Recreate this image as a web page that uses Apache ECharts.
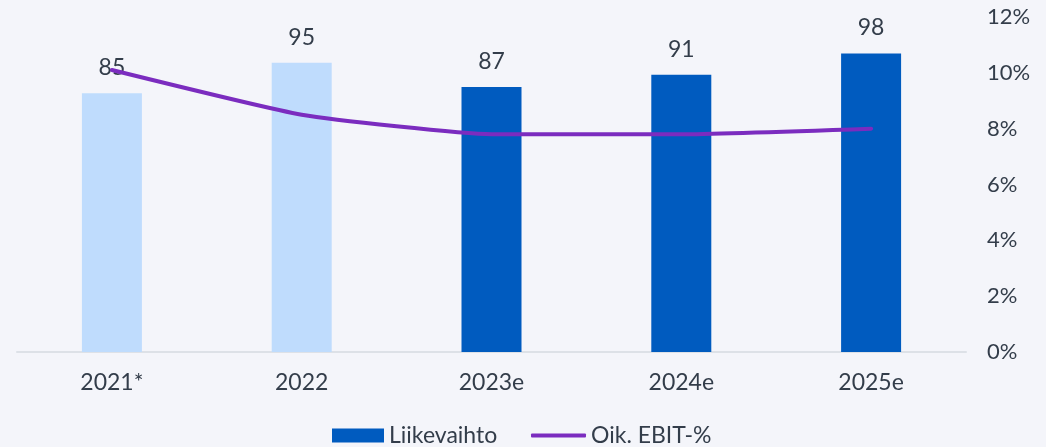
<!DOCTYPE html>
<html>
<head>
<meta charset="utf-8">
<script src="https://cdn.jsdelivr.net/npm/echarts@6/dist/echarts.min.js"></script>
<style>
html,body{margin:0;padding:0;background:#f4f5fa;}
#c{width:1046px;height:447px;}
</style>
</head>
<body>
<div id="c"></div>
<script>
const categories = ['2021*', '2022', '2023e', '2024e', '2025e'];
const revenue = [85, 95, 87, 91, 98];
const ebitPct = [10.1, 8.5, 7.8, 7.8, 8.0];
const actualCount = 2;
const pctTicks = [0, 2, 4, 6, 8, 10, 12];

const lightBlue = '#bfdcfd';
const darkBlue = '#005bbf';
const purple = '#7b2cbf';
const textColor = '#333d4a';
const font = 'Lato';

const chart = echarts.init(document.getElementById('c'), null, {renderer: 'canvas'});
chart.setOption({
  backgroundColor: '#f4f5fa',
  textStyle: {fontFamily: font},
  grid: {left: 17, right: 80, top: 17, bottom: 95},
  xAxis: {
    type: 'category',
    data: categories,
    axisLine: {lineStyle: {color: '#dde1e7', width: 2}},
    axisTick: {show: false},
    axisLabel: {color: textColor, fontSize: 23, fontFamily: font, margin: 19}
  },
  yAxis: [
    {type: 'value', min: 0, max: 110, show: false, splitLine: {show: false}},
    {
      type: 'value', position: 'right', min: 0, max: 12, interval: 2,
      splitLine: {show: false}, axisLine: {show: false}, axisTick: {show: false},
      axisLabel: {color: textColor, fontSize: 22, fontFamily: font, margin: 21, align: 'left',
        formatter: v => pctTicks.includes(v) ? v + '%' : ''}
    }
  ],
  legend: [
    {
      bottom: 0, left: 332, padding: 0,
      itemWidth: 52, itemHeight: 14,
      textStyle: {color: textColor, fontSize: 23, fontFamily: font},
      data: [{name: 'Liikevaihto', icon: 'rect'}]
    },
    {
      bottom: 0, left: 531, padding: 0,
      itemWidth: 55, itemHeight: 4,
      textStyle: {color: textColor, fontSize: 23, fontFamily: font},
      data: [{name: 'Oik. EBIT-%', icon: 'roundRect', itemStyle: {color: purple, borderWidth: 0}}]
    }
  ],
  series: [
    {
      name: 'Liikevaihto', type: 'bar', yAxisIndex: 0, barWidth: 60,
      itemStyle: {color: darkBlue},
      data: revenue.map((v, i) => ({value: v, itemStyle: {color: i < actualCount ? lightBlue : darkBlue}})),
      label: {show: true, position: 'top', distance: 14, color: textColor, fontSize: 23, fontFamily: font},
      z: 2
    },
    {
      name: 'Oik. EBIT-%', type: 'line', yAxisIndex: 1, data: ebitPct,
      symbol: 'none', smooth: 0.15,
      lineStyle: {color: purple, width: 4, cap: 'round', join: 'round'},
      itemStyle: {color: purple},
      z: 3
    }
  ],
  animation: false
});
</script>
</body>
</html>
